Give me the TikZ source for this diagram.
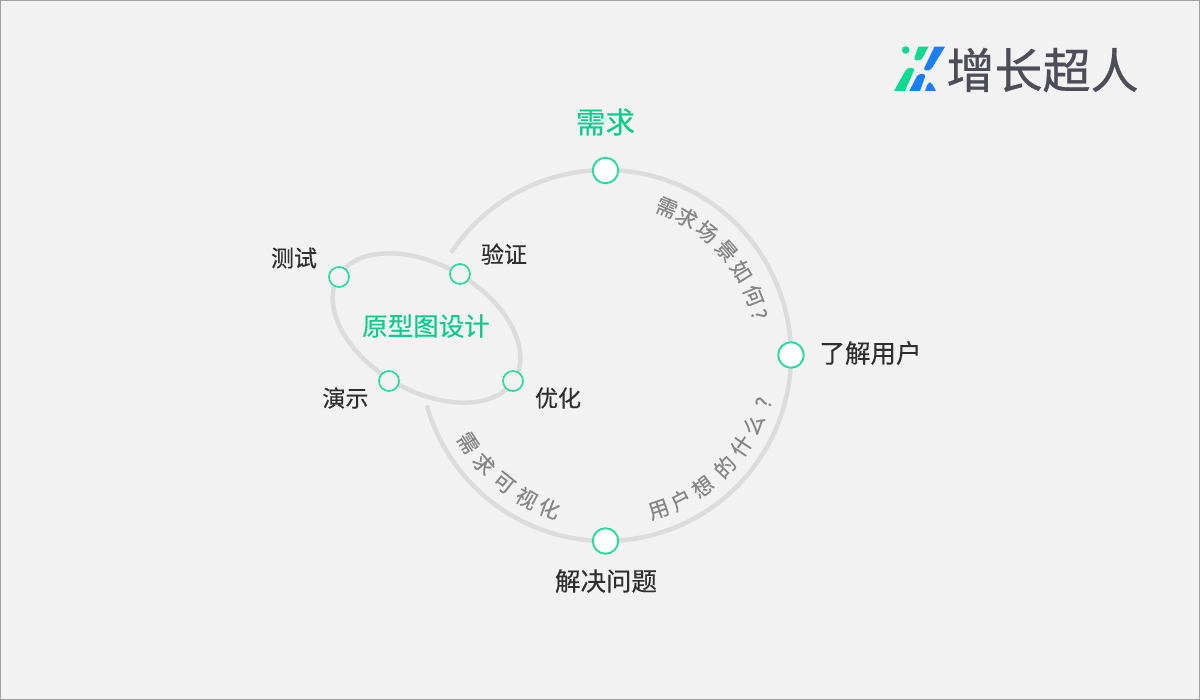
\documentclass[tikz,border=0pt]{standalone}
\usepackage{fontspec}
\setmainfont{Noto Sans CJK SC}[FakeBold=0.25]
\newfontfamily\logofont{Noto Sans CJK SC}[FakeBold=0.6]
\usetikzlibrary{positioning, arrows.meta}
\definecolor{bgfill}{HTML}{F2F2F2}
\definecolor{bgline}{HTML}{A0A0A0}
\definecolor{trackgray}{HTML}{DCDCDC}
\definecolor{ringgreen}{HTML}{2ADBA0}
\definecolor{titlegreen}{HTML}{0CCB8C}
\definecolor{logoblue}{HTML}{1A7FF5}
\definecolor{logogreen}{HTML}{10D992}
\definecolor{logotext}{HTML}{4D4D57}
\tikzset{
    track/.style={draw=trackgray, line width=4.5pt},
    bigdot/.style={circle, draw=ringgreen, fill=white, line width=1.9pt, minimum size=25.5pt, inner sep=0pt},
    smalldot/.style={circle, draw=ringgreen, fill=bgfill, line width=1.7pt, minimum size=20pt, inner sep=0pt},
    stagelabel/.style={text=black!82, font=\fontsize{25.5}{26}\selectfont, inner sep=0pt},
    steplabel/.style={text=black!82, font=\fontsize{23}{25}\selectfont, inner sep=0pt},
    arctext/.style={text=black!48, font=\fontsize{21}{22}\selectfont, inner sep=0pt},
    greenlabel/.style={text=titlegreen, inner sep=0pt}
}

\begin{document}
\begin{tikzpicture}[x=1pt, y=-1pt]
    \useasboundingbox (0,0) rectangle (1200,700);
    \draw[bgline, fill=bgfill, line width=1pt] (0.5,0.5) rectangle (1199.5,699.5);

    % big loop and prototype ellipse
    \coordinate (ctr) at (605.5,355.5);
    \draw[track] (ctr) ++(213.6:185.5) arc[start angle=213.6, end angle=524.4, radius=185.5];
    \draw[track] (426.5,328) ellipse[x radius=102, y radius=63, rotate=-30];

    % dots
    \node[bigdot] (need) at (605.5,170.5) {};
    \node[bigdot] (user) at (791,355) {};
    \node[bigdot] (solve) at (605.5,541) {};
    \node[smalldot] (test) at (339,277) {};
    \node[smalldot] (check) at (460,274) {};
    \node[smalldot] (optim) at (513,381) {};
    \node[smalldot] (demo) at (389,381) {};

    % labels
    \node[greenlabel, font=\fontsize{29.5}{30}\selectfont] (needlabel) at (605.5,122) {需求};
    \node[stagelabel] (userlabel) at (870.5,353) {了解用户};
    \node[stagelabel] (solvelabel) at (606,581) {解决问题};
    \node[steplabel] (testlabel) at (294,258) {测试};
    \node[steplabel] (checklabel) at (504,254) {验证};
    \node[steplabel] (optimlabel) at (558,398) {优化};
    \node[steplabel] (demolabel) at (345.5,398) {演示};
    \node[greenlabel, font=\fontsize{25.5}{27}\selectfont] (protolabel) at (426,326) {原型图设计};

    % text along the loop
    \begin{scope}[shift={(ctr)}]
        \foreach \ch/\ang in {需/-67.5, 求/-59.5, 场/-50.6, 景/-40.9, 如/-31.8, 何/-22}
            \node[arctext, rotate={-90-\ang}] at (\ang:160) {\ch};
        \node[arctext, rotate=-75] (qone) at (-15:159) {?};
        \foreach \ch/\ang in {用/70.9, 户/62.4, 想/53.5, 的/43, 什/33.6, 么/24.9}
            \node[arctext, rotate={90-\ang}] at (\ang:163) {\ch};
        \node[arctext, rotate=73] (qtwo) at (16.6:165) {?};
        \foreach \ch/\ang in {需/147.5, 求/138.3, 可/128.5, 视/118.9, 化/110.2}
            \node[arctext, rotate={90-\ang}] at (\ang:163) {\ch};
    \end{scope}

    % logo
    \fill[logogreen] (905.7,50) circle (3.8);
    \fill[logogreen] (918.3,46.7) -- (928.5,46.7) [rounded corners=3pt] -- (921,60.5) -- (913.5,60.5) [sharp corners] -- cycle;
    \fill[logoblue] (934.5,46.7) -- (945,46.7) [rounded corners=3pt] -- (930.5,70.5) -- (923,70.5) [sharp corners] -- cycle;
    \fill[logogreen] (894,91) -- (905,91) [rounded corners=3pt] -- (915,68) -- (907,68) [sharp corners] -- cycle;
    \fill[logoblue] (909.3,91) -- (920,91) [rounded corners=3pt] -- (926,74) -- (918,74) [sharp corners] -- cycle;
    \fill[logoblue] (925,91) -- (936,91) [rounded corners=3pt] -- (931.5,82.5) -- (928,82.5) [sharp corners] -- cycle;
    \node[text=logotext, font=\logofont\fontsize{48}{49}\selectfont, inner sep=0pt] (logotitle) at (1042.5,70) {增长超人};
\end{tikzpicture}
\end{document}
